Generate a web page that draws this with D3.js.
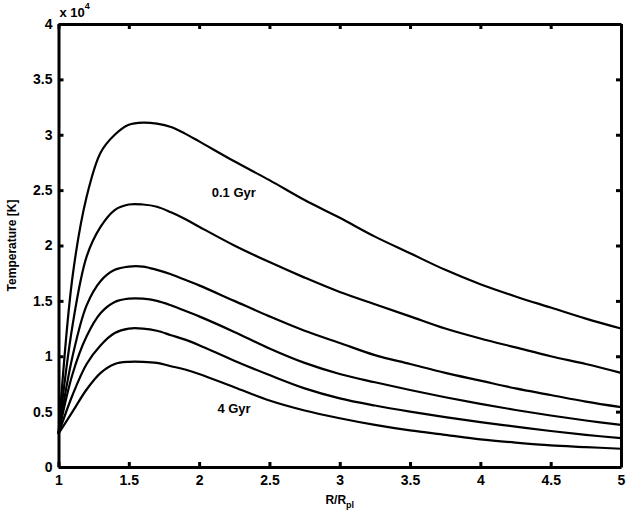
<!DOCTYPE html>
<html>
<head>
<meta charset="utf-8">
<script src="https://cdn.jsdelivr.net/npm/d3@7/dist/d3.min.js"></script>
<style>
    body { margin: 0; background: #fff; }
    svg text { font-family: "Liberation Sans", Arial, sans-serif; font-weight: bold; fill: #000; }
</style>
</head>
<body>
<svg id="chart" width="626" height="521"></svg>
<script>
// radius in planet radii
const radius = [ 1.0, 1.1, 1.2, 1.3, 1.4, 1.5, 1.6, 1.7, 1.8, 1.9, 2.0,
    2.25, 2.5, 2.75, 3.0, 3.25, 3.5, 3.75, 4.0, 4.25, 4.5, 4.75, 5.0 ];

// temperature in units of 1e4 K, one array per age
const temp01Gyr = [ 0.30, 1.72, 2.44, 2.84, 3.00, 3.09, 3.11, 3.10, 3.07, 3.01, 2.94,
    2.76, 2.59, 2.41, 2.25, 2.08, 1.93, 1.78, 1.65, 1.54, 1.44, 1.34, 1.25 ];
const tempCurve2 = [ 0.30, 1.28, 1.90, 2.17, 2.32, 2.37, 2.37, 2.35, 2.30, 2.24, 2.17,
    2.00, 1.85, 1.71, 1.58, 1.47, 1.36, 1.25, 1.16, 1.08, 1.00, 0.93, 0.85 ];
const tempCurve3 = [ 0.30, 1.00, 1.46, 1.68, 1.78, 1.81, 1.81, 1.78, 1.74, 1.69, 1.64,
    1.50, 1.36, 1.23, 1.12, 1.01, 0.93, 0.85, 0.78, 0.71, 0.65, 0.59, 0.54 ];
const tempCurve4 = [ 0.30, 0.84, 1.18, 1.39, 1.49, 1.52, 1.52, 1.50, 1.46, 1.41, 1.36,
    1.22, 1.07, 0.94, 0.84, 0.765, 0.695, 0.63, 0.57, 0.515, 0.465, 0.42, 0.38 ];
const tempCurve5 = [ 0.30, 0.65, 0.93, 1.10, 1.21, 1.25, 1.25, 1.23, 1.19, 1.15, 1.10,
    0.96, 0.83, 0.71, 0.62, 0.555, 0.50, 0.45, 0.405, 0.365, 0.325, 0.29, 0.26 ];
const temp4Gyr = [ 0.30, 0.50, 0.70, 0.85, 0.93, 0.95, 0.95, 0.94, 0.91, 0.88, 0.84,
    0.72, 0.60, 0.51, 0.44, 0.38, 0.33, 0.29, 0.25, 0.22, 0.195, 0.18, 0.165 ];

const xTicks = [ 1, 1.5, 2, 2.5, 3, 3.5, 4, 4.5, 5 ];
const yTicks = [ 0, 0.5, 1, 1.5, 2, 2.5, 3, 3.5, 4 ];
const curveLabels = [ { text: '0.1 Gyr', x: 2.09, y: 2.44 }, { text: '4 Gyr', x: 2.13, y: 0.49 } ];

const margin = { left: 58.5, top: 24, right: 5, bottom: 54 };
const svg = d3.select( '#chart' );
const width = +svg.attr( 'width' ) - margin.left - margin.right;
const height = +svg.attr( 'height' ) - margin.top - margin.bottom;

const xScale = d3.scaleLinear().domain( [ 1, 5 ] ).range( [ 0, width ] );
const yScale = d3.scaleLinear().domain( [ 0, 4 ] ).range( [ height, 0 ] );

const plotGroup = svg.append( 'g' )
    .attr( 'transform', `translate(${margin.left},${margin.top})` );

// curves
const series = [ temp01Gyr, tempCurve2, tempCurve3, tempCurve4, tempCurve5, temp4Gyr ];
const line = d3.line()
    .x( ( d, i ) => xScale( radius[ i ] ) )
    .y( d => yScale( d ) )
    .curve( d3.curveCatmullRom.alpha( 0.5 ) );

plotGroup.append( 'g' ).selectAll( 'path' ).data( series )
    .enter().append( 'path' )
    .attr( 'd', line )
    .attr( 'fill', 'none' )
    .attr( 'stroke', '#000' )
    .attr( 'stroke-width', 2.2 )
    .attr( 'stroke-linejoin', 'round' );

// axes, ticks pointing inward on all four sides
function styleAxis( g ) {
    g.attr( 'font-size', null );
    g.selectAll( '.domain' ).attr( 'stroke-width', 3 );
    g.selectAll( '.tick line' ).attr( 'stroke-width', 3 );
    g.selectAll( '.tick text' ).style( 'font-size', '14px' );
}

plotGroup.append( 'g' )
    .attr( 'transform', `translate(0,${height})` )
    .call( d3.axisBottom( xScale ).tickValues( xTicks ).tickFormat( d3.format( '' ) )
        .tickSize( -5 ).tickSizeOuter( 0 ).tickPadding( 8 ) )
    .call( styleAxis );

plotGroup.append( 'g' )
    .call( d3.axisTop( xScale ).tickValues( xTicks ).tickFormat( '' )
        .tickSize( -5 ).tickSizeOuter( 0 ) )
    .call( styleAxis );

plotGroup.append( 'g' )
    .call( d3.axisLeft( yScale ).tickValues( yTicks ).tickFormat( d3.format( '' ) )
        .tickSize( -5 ).tickSizeOuter( 0 ).tickPadding( 6 ) )
    .call( styleAxis );

plotGroup.append( 'g' )
    .attr( 'transform', `translate(${width},0)` )
    .call( d3.axisRight( yScale ).tickValues( yTicks ).tickFormat( '' )
        .tickSize( -5 ).tickSizeOuter( 0 ) )
    .call( styleAxis );

// multiplier above the y axis
const mult = plotGroup.append( 'text' )
    .attr( 'x', 1 )
    .attr( 'y', -7 )
    .style( 'font-size', '13px' );
mult.append( 'tspan' ).text( 'x 10' );
mult.append( 'tspan' ).attr( 'dy', -8 ).style( 'font-size', '9px' ).text( '4' );

// curve labels
plotGroup.selectAll( '.curve-label' ).data( curveLabels )
    .enter().append( 'text' )
    .attr( 'class', 'curve-label' )
    .attr( 'x', d => xScale( d.x ) )
    .attr( 'y', d => yScale( d.y ) )
    .style( 'font-size', '13px' )
    .text( d => d.text );

// axis labels
const xLabel = plotGroup.append( 'text' )
    .attr( 'x', width / 2 )
    .attr( 'y', height + 37 )
    .style( 'text-anchor', 'middle' )
    .style( 'font-size', '12px' );
xLabel.append( 'tspan' ).text( 'R/R' );
xLabel.append( 'tspan' ).attr( 'dy', 4 ).style( 'font-size', '9px' ).text( 'pl' );

plotGroup.append( 'text' )
    .attr( 'transform', `translate(${-43},${height / 2}) rotate(-90)` )
    .style( 'text-anchor', 'middle' )
    .style( 'font-size', '12px' )
    .text( 'Temperature [K]' );
</script>
</body>
</html>
